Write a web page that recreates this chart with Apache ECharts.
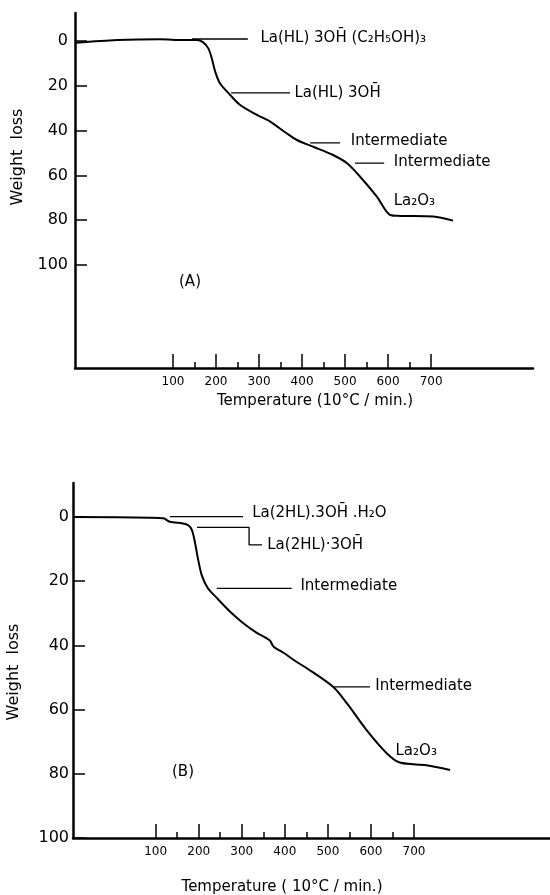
<!DOCTYPE html>
<html>
<head>
<meta charset="utf-8">
<script src="https://cdn.jsdelivr.net/npm/echarts@6/dist/echarts.min.js"></script>
<style>
  html, body { margin: 0; padding: 0; background: #fff; }
  #chart { width: 550px; height: 895px; }
</style>
</head>
<body>
<div id="chart"></div>
<script>
// panel A: La(HL)3OH(C2H5OH)3
const tempA = [-126, -30, 70, 124, 155, 170, 182, 190, 198, 209, 229, 256, 295, 326, 364, 388, 426, 472, 504, 535, 574, 605, 628, 705, 751];
const lossA = [0.8, -0.4, -0.8, -0.4, -0.4, 0.6, 3.3, 7.7, 13.7, 18.9, 23.3, 28.6, 33, 36, 41.2, 44.2, 47.2, 50.9, 54.5, 60.6, 69.5, 77.7, 78.1, 78.4, 80.2];

// panel B: La(2HL).3OH.H2O
const tempB = [-92, 87, 118, 133, 163, 175, 184, 191, 198, 207, 221, 242, 273, 303, 335, 358, 366, 374, 396, 427, 451, 512, 544, 590, 636, 667, 729, 784];
const lossB = [0, 0.2, 0.4, 1.5, 2, 2.5, 4, 7.7, 12.8, 18.1, 22.1, 25.2, 29.5, 33, 36.1, 37.8, 38.6, 40.4, 42.2, 45.1, 47.1, 52.9, 58, 66.4, 73.5, 76.5, 77.3, 78.8];

const majorTicks = [100, 200, 300, 400, 500, 600, 700];
const minorTicks = [150, 250, 350, 450, 550, 650];
const lossTicks = [0, 20, 40, 60, 80, 100];

// leader lines, in data units
const leadersA = [
  [[144, -0.9], [274, -0.9]],
  [[235, 23.2], [372, 23.2]],
  [[419, 45.5], [488, 45.5]],
  [[523, 54.5], [591, 54.5]]
];
const notesA = [
  ['La(HL) 3OH\u0304 (C\u2082H\u2085OH)\u2083', 302, -1.5],
  ['La(HL) 3OH\u0304', 381, 23.2],
  ['Intermediate', 512, 44.5],
  ['Intermediate', 612, 54],
  ['La\u2082O\u2083', 612, 71.5]
];
const leadersB = [
  [[133, -0.1], [303, -0.1]],
  [[196, 3.2], [317, 3.2], [317, 8.7], [347, 8.7]],
  [[242, 22.2], [416, 22.2]],
  [[512, 52.9], [598, 52.9]]
];
const notesB = [
  ['La(2HL).3OH\u0304 .H\u2082O', 323, -1.2],
  ['La(2HL)\u00b73OH\u0304', 358, 8.7],
  ['Intermediate', 435, 21.5],
  ['Intermediate', 609, 52.7],
  ['La\u2082O\u2083', 656, 73]
];

const FONT = 'DejaVu Sans';
const zip = (xs, ys) => xs.map((x, i) => [x, ys[i]]);

function xAxes(grid, min, max) {
  return [
    {
      gridIndex: grid, type: 'value', position: 'bottom', min: min, max: max,
      axisLine: { show: true, onZero: false, lineStyle: { color: '#000', width: 2.5 } },
      axisTick: { show: true, inside: true, length: 14, customValues: majorTicks, lineStyle: { color: '#000', width: 1.5 } },
      axisLabel: { customValues: majorTicks, margin: 8, fontSize: 12, fontFamily: FONT, color: '#000' },
      splitLine: { show: false }
    },
    {
      gridIndex: grid, type: 'value', position: 'bottom', min: min, max: max,
      axisLine: { show: false, onZero: false },
      axisTick: { show: true, inside: true, length: 6, customValues: minorTicks, lineStyle: { color: '#000', width: 1.5 } },
      axisLabel: { show: false },
      splitLine: { show: false }
    }
  ];
}

function yAxis(grid, min, max, margin) {
  return {
    gridIndex: grid, type: 'value', inverse: true, min: min, max: max,
    axisLine: { show: true, onZero: false, lineStyle: { color: '#000', width: 2.5 } },
    axisTick: { show: true, inside: true, length: 12, customValues: lossTicks, lineStyle: { color: '#000', width: 1.5 } },
    axisLabel: { customValues: lossTicks, margin: margin, fontSize: 16, fontFamily: FONT, color: '#000' },
    splitLine: { show: false }
  };
}

function panelSeries(axisX, axisY, temps, losses, leaders, notes) {
  const list = [{
    type: 'line', xAxisIndex: axisX, yAxisIndex: axisY,
    data: zip(temps, losses), showSymbol: false, smooth: 0.3,
    lineStyle: { color: '#000', width: 2 }
  }];
  leaders.forEach(pts => {
    list.push({
      type: 'line', xAxisIndex: axisX, yAxisIndex: axisY,
      data: pts, showSymbol: false,
      lineStyle: { color: '#000', width: 1.3 }
    });
  });
  list.push({
    type: 'scatter', xAxisIndex: axisX, yAxisIndex: axisY,
    symbolSize: 1, itemStyle: { color: 'rgba(0,0,0,0)', opacity: 1 },
    data: notes.map(n => ({ name: n[0], value: [n[1], n[2]] })),
    label: { show: true, position: 'right', distance: 0, formatter: '{b}', fontSize: 15, fontFamily: FONT, color: '#000' }
  });
  return list;
}

const chart = echarts.init(document.getElementById('chart'));

const textStyle = (text, x, y, size, rot) => ({
  type: 'text', x: x, y: y, rotation: rot || 0,
  style: { text: text, font: size + 'px ' + FONT, fill: '#000', align: 'center', verticalAlign: 'middle' }
});

chart.setOption({
  animation: false,
  backgroundColor: '#fff',
  grid: [
    { left: 75, top: 13, width: 458, height: 355 },
    { left: 73, top: 483, width: 477, height: 355 }
  ],
  xAxis: [].concat(xAxes(0, -128, 937), xAxes(1, -92, 1016)),
  yAxis: [yAxis(0, -12.5, 146, 7), yAxis(1, -10.6, 100, 4)],
  series: [].concat(
    panelSeries(0, 0, tempA, lossA, leadersA, notesA),
    panelSeries(2, 1, tempB, lossB, leadersB, notesB)
  ),
  graphic: [
    textStyle('Weight  loss', 18, 157, 16, Math.PI / 2),
    textStyle('Weight  loss', 14, 672, 16, Math.PI / 2),
    textStyle('Temperature (10\u00b0C / min.)', 315, 401, 15),
    textStyle('Temperature ( 10\u00b0C / min.)', 282, 887, 15),
    textStyle('(A)', 190, 282, 15),
    textStyle('(B)', 183, 772, 15)
  ]
});
</script>
</body>
</html>
